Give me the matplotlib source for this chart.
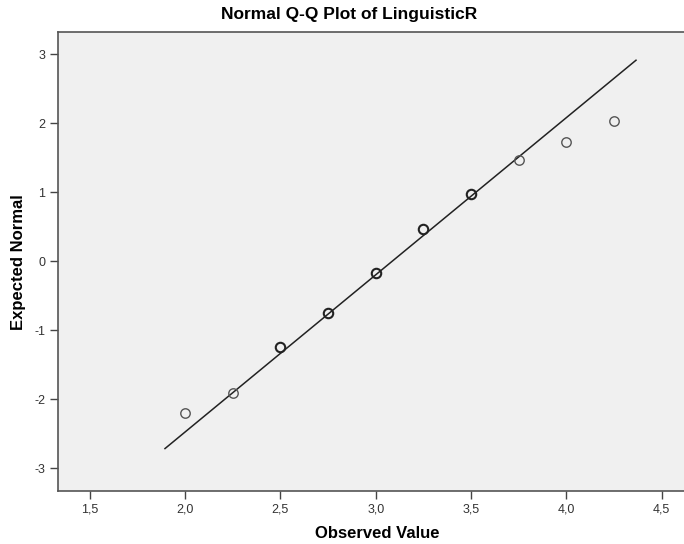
import numpy as np
import matplotlib
matplotlib.use("Agg")
import matplotlib.pyplot as plt
from matplotlib.ticker import FuncFormatter

# ------------------ Data ------------------

observed = [2.00, 2.25, 2.50, 2.75, 3.00, 3.25, 3.50, 3.75, 4.00, 4.25]
expected = [-2.20, -1.91, -1.25, -0.75, -0.17, 0.46, 0.98, 1.46, 1.72, 2.03]
# points that look heavier in the picture (several cases on top of each other)
heavy = [False, False, True, True, True, True, True, False, False, False]

line_x = [1.895, 4.365]
obs_mean = 3.087
obs_sd = 0.439

x_ticks = [1.5, 2.0, 2.5, 3.0, 3.5, 4.0, 4.5]
y_ticks = [-3, -2, -1, 0, 1, 2, 3]

# ------------------ Plot ------------------

plt.rcParams["font.family"] = ["Liberation Sans", "DejaVu Sans"]

W, H = 684, 544
fig = plt.figure(figsize=(W / 100, H / 100), dpi=100)
left, right, top, bottom = 58, 690, 32, 491
ax = fig.add_axes([left / W, 1 - bottom / H, (right - left) / W, (bottom - top) / H])
ax.set_facecolor("#f0f0f0")

lx = np.array(line_x)
ax.plot(lx, (lx - obs_mean) / obs_sd, color="#222222", lw=1.1, zorder=2)

for xv, yv, h in zip(observed, expected, heavy):
    ax.plot([xv], [yv], "o", ms=6.8, mfc="none",
            mec="#222222" if h else "#555555", mew=1.5 if h else 1.0, zorder=3)

ax.set_xlim(1.334, 2 + (right - 185) / 190.7)
ax.set_ylim(-3.33, 3.32)
ax.set_xticks(x_ticks)
ax.set_yticks(y_ticks)
ax.xaxis.set_major_formatter(FuncFormatter(lambda v, p: f"{v:.1f}".replace(".", ",")))
ax.yaxis.set_major_formatter(FuncFormatter(lambda v, p: f"{int(v)}"))
ax.tick_params(axis="both", direction="out", length=6, width=1, color="#444444",
               labelsize=9, labelcolor="#333333", pad=3)

for side in ["left", "bottom", "top", "right"]:
    ax.spines[side].set_color("#555555")
    ax.spines[side].set_linewidth(1.2)

fig.text(377 / W, 1 - 533 / H, "Observed Value", ha="center", va="center",
         fontsize=12, fontweight="bold")
fig.text(19 / W, 1 - 262 / H, "Expected Normal", ha="center", va="center",
         rotation=90, fontsize=12, fontweight="bold")
fig.text(349 / W, 1 - 15 / H, "Normal Q-Q Plot of LinguisticR", ha="center", va="center",
         fontsize=12.5, fontweight="bold")

fig.savefig("out.png", dpi=100, facecolor="white")
